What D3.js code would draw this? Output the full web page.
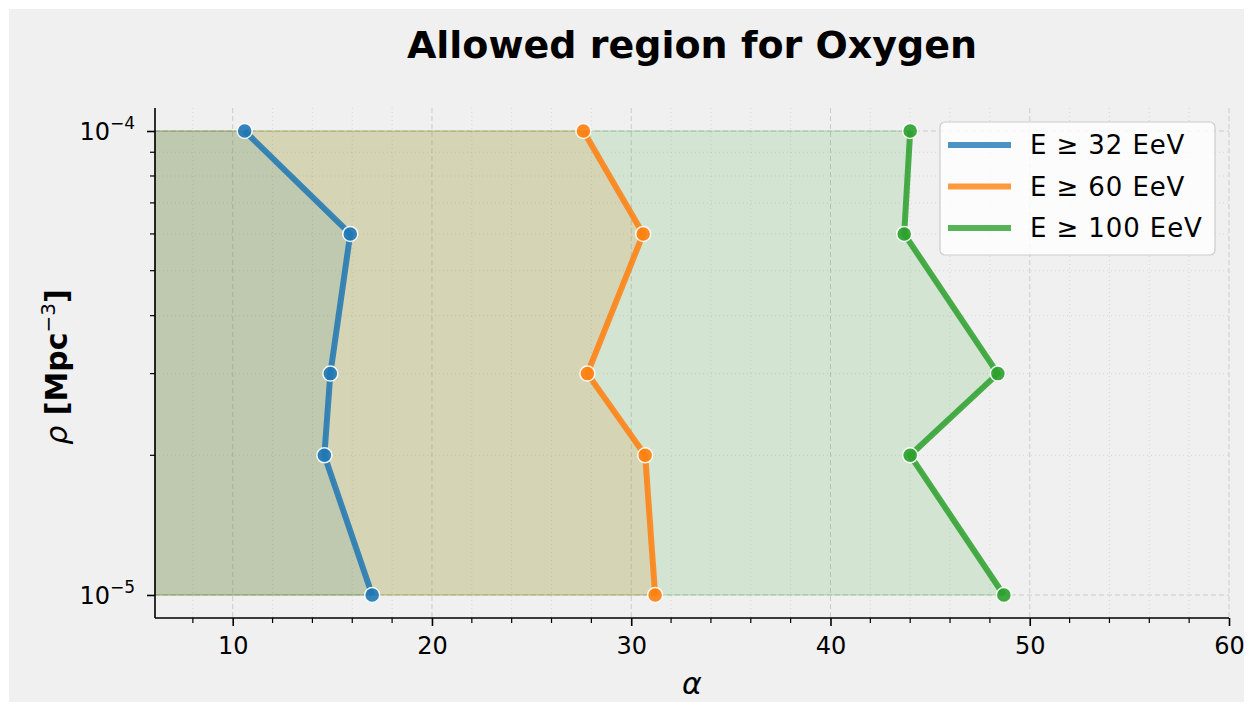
<!DOCTYPE html>
<html lang="en">
<head>
    <meta charset="UTF-8">
    <title>Allowed region for Oxygen</title>
    <script src="https://d3js.org/d3.v7.min.js"></script>
    <style>
        body { margin: 0; background: #ffffff; }
        text { font-family: "DejaVu Sans", sans-serif; }
    </style>
</head>
<body>
<div id="chart"></div>
<script>
    // -------- DATA ---------
    var rho = [1e-4, 6e-5, 3e-5, 2e-5, 1e-5];
    var alpha32 = [10.6, 15.9, 14.9, 14.6, 17.0];
    var alpha60 = [27.6, 30.6, 27.8, 30.7, 31.2];
    var alpha100 = [44.0, 43.7, 48.4, 44.0, 48.7];
    var seriesNames = ["E \u2265 32 EeV", "E \u2265 60 EeV", "E \u2265 100 EeV"];
    var seriesColors = ["#1f77b4", "#ff7f0e", "#2ca02c"];
    var xTicks = [10, 20, 30, 40, 50, 60];
    var yTicks = [1e-5, 1e-4];

    var series = [alpha32, alpha60, alpha100];

    var W = 1253, H = 711;
    var margin = { top: 108, right: 24, bottom: 93, left: 155 },
        width = W - margin.left - margin.right,
        height = H - margin.top - margin.bottom;

    var svg = d3.select("#chart")
        .append("svg")
        .attr("width", W)
        .attr("height", H);

    // figure background
    svg.append("rect")
        .attr("x", 9).attr("y", 9)
        .attr("width", W - 18).attr("height", H - 18)
        .attr("fill", "#f0f0f0");

    var g = svg.append("g")
        .attr("transform", "translate(" + margin.left + "," + margin.top + ")");

    var x = d3.scaleLinear()
        .domain([6.1, 60])
        .range([0, width]);
    var y = d3.scaleLog()
        .domain([8.92e-6, 1.121e-4])
        .range([height, 0]);

    var xMinor = d3.range(8, 60, 2).filter(function (d) { return d % 10 !== 0; });
    var yMinor = d3.range(2, 10).map(function (d) { return d * 1e-5; });

    // grid
    g.append("g").selectAll("line")
        .data(xMinor).enter().append("line")
        .attr("x1", function (d) { return x(d); })
        .attr("x2", function (d) { return x(d); })
        .attr("y1", 0).attr("y2", height)
        .attr("stroke", "#c8c8c8").attr("stroke-width", 1)
        .attr("stroke-dasharray", "1,3").attr("opacity", 0.6);
    g.append("g").selectAll("line")
        .data(yMinor).enter().append("line")
        .attr("x1", 0).attr("x2", width)
        .attr("y1", function (d) { return y(d); })
        .attr("y2", function (d) { return y(d); })
        .attr("stroke", "#c8c8c8").attr("stroke-width", 1)
        .attr("stroke-dasharray", "1,3").attr("opacity", 0.6);
    g.append("g").selectAll("line")
        .data(xTicks).enter().append("line")
        .attr("x1", function (d) { return x(d); })
        .attr("x2", function (d) { return x(d); })
        .attr("y1", 0).attr("y2", height)
        .attr("stroke", "#bdbdbd").attr("stroke-width", 1)
        .attr("stroke-dasharray", "5,3").attr("opacity", 0.7);
    g.append("g").selectAll("line")
        .data(yTicks).enter().append("line")
        .attr("x1", 0).attr("x2", width)
        .attr("y1", function (d) { return y(d); })
        .attr("y2", function (d) { return y(d); })
        .attr("stroke", "#bdbdbd").attr("stroke-width", 1)
        .attr("stroke-dasharray", "5,3").attr("opacity", 0.7);

    // allowed regions
    var area = d3.area()
        .y(function (d) { return y(d[1]); })
        .x0(x(6.1))
        .x1(function (d) { return x(d[0]); });

    series.forEach(function (s, i) {
        var pts = s.map(function (v, j) { return [v, rho[j]]; });
        g.append("path")
            .datum(pts)
            .attr("d", area)
            .attr("fill", seriesColors[i])
            .attr("fill-opacity", 0.15)
            .attr("stroke", seriesColors[i])
            .attr("stroke-opacity", 0.2)
            .attr("stroke-width", 1.5);
    });

    var line = d3.line()
        .x(function (d) { return x(d[0]); })
        .y(function (d) { return y(d[1]); });

    series.forEach(function (s, i) {
        var pts = s.map(function (v, j) { return [v, rho[j]]; });
        g.append("path")
            .datum(pts)
            .attr("d", line)
            .attr("fill", "none")
            .attr("stroke", seriesColors[i])
            .attr("stroke-width", 6)
            .attr("stroke-opacity", 0.85)
            .attr("stroke-linejoin", "round");
        g.append("g").selectAll("circle")
            .data(pts).enter().append("circle")
            .attr("cx", function (d) { return x(d[0]); })
            .attr("cy", function (d) { return y(d[1]); })
            .attr("r", 7.5)
            .attr("fill", seriesColors[i])
            .attr("fill-opacity", 0.9)
            .attr("stroke", "#ffffff")
            .attr("stroke-width", 1.5)
            .attr("stroke-opacity", 0.9);
    });

    // axes
    var xAxis = g.append("g")
        .attr("transform", "translate(0," + height + ")")
        .call(d3.axisBottom(x).tickValues(xTicks).tickSize(8).tickFormat(d3.format("d")));
    xAxis.append("g").selectAll("line")
        .data(xMinor).enter().append("line")
        .attr("x1", function (d) { return x(d); })
        .attr("x2", function (d) { return x(d); })
        .attr("y1", 0).attr("y2", 5)
        .attr("stroke", "#000").attr("stroke-width", 1.2);
    xAxis.select(".domain").attr("d", "M0,0H" + width).attr("stroke-width", 1.6);
    xAxis.selectAll(".tick line").attr("stroke-width", 1.6);
    xAxis.selectAll(".tick text")
        .attr("font-size", 24).attr("font-family", "DejaVu Sans")
        .attr("fill", "#000").attr("dy", "1.05em");

    var yAxis = g.append("g")
        .call(d3.axisLeft(y).tickValues(yTicks).tickSize(8).tickFormat(""));
    yAxis.append("g").selectAll("line")
        .data(yMinor).enter().append("line")
        .attr("x1", 0).attr("x2", -5)
        .attr("y1", function (d) { return y(d); })
        .attr("y2", function (d) { return y(d); })
        .attr("stroke", "#000").attr("stroke-width", 1.2);
    yAxis.select(".domain").attr("d", "M0,0V" + height).attr("stroke-width", 1.6);
    yAxis.selectAll(".tick line").attr("stroke-width", 1.6);

    yTicks.forEach(function (t) {
        var lab = g.append("text")
            .attr("x", -20)
            .attr("y", y(t) + 9)
            .attr("text-anchor", "end")
            .attr("font-size", 24)
            .attr("fill", "#000");
        lab.append("tspan").text("10");
        lab.append("tspan")
            .attr("font-size", 17)
            .attr("dy", -11)
            .text("\u2212" + Math.round(-Math.log10(t)));
    });

    // labels
    svg.append("text")
        .attr("x", margin.left + width / 2)
        .attr("y", 58)
        .attr("text-anchor", "middle")
        .attr("font-size", 38)
        .attr("font-weight", "bold")
        .attr("fill", "#000")
        .text("Allowed region for Oxygen");

    svg.append("text")
        .attr("x", margin.left + width / 2)
        .attr("y", 694)
        .attr("text-anchor", "middle")
        .attr("font-size", 30)
        .attr("font-style", "italic")
        .attr("fill", "#000")
        .text("\u03b1");

    var yl = svg.append("text")
        .attr("transform", "translate(67," + (margin.top + height / 2 + 4) + ") rotate(-90)")
        .attr("text-anchor", "middle")
        .attr("font-size", 30)
        .attr("fill", "#000");
    yl.append("tspan").attr("font-style", "italic").text("\u03c1");
    yl.append("tspan").attr("font-weight", "bold").text(" [Mpc");
    yl.append("tspan").attr("font-size", 20).attr("dy", -12).text("\u22123");
    yl.append("tspan").attr("font-weight", "bold").attr("dy", 12).text("]");

    // legend
    var leg = svg.append("g").attr("transform", "translate(940,122)");
    leg.append("rect")
        .attr("width", 275).attr("height", 133)
        .attr("rx", 5)
        .attr("fill", "#ffffff").attr("fill-opacity", 0.8)
        .attr("stroke", "#cccccc").attr("stroke-width", 1.2);
    seriesNames.forEach(function (name, i) {
        var cy = 23 + i * 41.5;
        leg.append("line")
            .attr("x1", 8).attr("x2", 71)
            .attr("y1", cy).attr("y2", cy)
            .attr("stroke", seriesColors[i])
            .attr("stroke-width", 6)
            .attr("stroke-opacity", 0.8);
        leg.append("text")
            .attr("x", 90).attr("y", cy + 9)
            .attr("font-size", 26)
            .attr("letter-spacing", 0.9)
            .attr("fill", "#000")
            .text(name);
    });
</script>
</body>
</html>
